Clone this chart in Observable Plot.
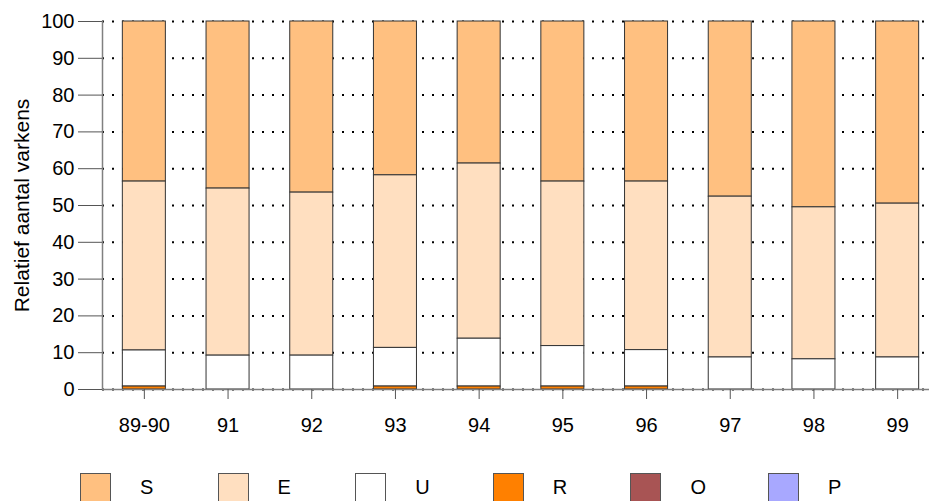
<!DOCTYPE html>
<html>
<head>
<meta charset="utf-8">
<script src="https://cdn.jsdelivr.net/npm/d3@7"></script>
<script src="https://cdn.jsdelivr.net/npm/@observablehq/plot@0.6"></script>
<style>
  html, body { margin: 0; padding: 0; background: #fff; }
  body { width: 929px; height: 501px; position: relative; overflow: hidden; font-family: "Liberation Sans", Arial, sans-serif; }
  #chart svg { display: block; }
  g[aria-label="y-axis label"] text, g[aria-label="y-axis label"] { font-size: 21px !important; }
  #legend { position: absolute; left: 0; top: 473px; width: 929px; height: 40px; }
  .item { position: absolute; top: 0; height: 40px; }
  .sw { position: absolute; left: 0; top: 0; width: 31px; height: 30px; border: 1px solid #555; box-sizing: border-box; }
  .lb { position: absolute; left: 60px; top: 2px; font-size: 20px; color: #000; line-height: 24px; }
</style>
</head>
<body>
<div id="chart"></div>
<div id="legend"></div>
<script>
const years = ["89-90", "91", "92", "93", "94", "95", "96", "97", "98", "99"];
const seriesNames = ["S", "E", "U", "R", "O", "P"];
const seriesColors = ["#FFC080", "#FFDFC0", "#FFFFFF", "#FF8000", "#A85454", "#A8A8FF"];
const stackOrder = ["P", "O", "R", "U", "E", "S"];

const S = [43.5, 45.4, 46.5, 41.8, 38.6, 43.5, 43.5, 47.6, 50.5, 49.5];
const E = [45.9, 45.4, 44.3, 46.9, 47.6, 44.7, 45.8, 43.7, 41.3, 41.8];
const U = [9.8, 9.2, 9.2, 10.5, 13.0, 11.0, 9.9, 8.7, 8.2, 8.7];
const R = [0.8, 0, 0, 0.8, 0.8, 0.8, 0.8, 0, 0, 0];
const O = [0, 0, 0, 0, 0, 0, 0, 0, 0, 0];
const P = [0, 0, 0, 0, 0, 0, 0, 0, 0, 0];
const yTicks = [0, 10, 20, 30, 40, 50, 60, 70, 80, 90, 100];
const yLabel = "Relatief aantal varkens";

const seriesValues = {S, E, U, R, O, P};
const data = [];
years.forEach((yr, i) => {
  seriesNames.forEach(s => data.push({year: yr, series: s, value: seriesValues[s][i]}));
});

const chart = Plot.plot({
  width: 929,
  height: 460,
  marginLeft: 102,
  marginRight: 0,
  marginTop: 21,
  marginBottom: 71,
  style: {fontFamily: "'Liberation Sans', Arial, sans-serif", fontSize: "20px", color: "#000", background: "#fff"},
  x: {type: "band", domain: years, range: [102, 939], paddingInner: 0.486, paddingOuter: 0.243, round: false},
  y: {domain: [0, 100]},
  color: {domain: seriesNames, range: seriesColors},
  marks: [
    Plot.gridY(yTicks, {stroke: "#000", strokeOpacity: 1, strokeWidth: 2, strokeDasharray: "2 8"}),
    Plot.barY(data, Plot.stackY({order: stackOrder}, {
      x: "year", y: "value", z: "series", fill: "series",
      stroke: "#333", strokeWidth: 1, insetLeft: 0, insetRight: 0
    })),
    Plot.ruleY([0], {stroke: "#808080", strokeWidth: 1.5}),
    Plot.frame({anchor: "left", stroke: "#808080", strokeWidth: 1.5}),
    Plot.axisY(yTicks, {tickSize: 24, tickPadding: 4, fontSize: 20, stroke: "#555",
      label: yLabel, labelAnchor: "center", labelArrow: "none", labelOffset: 88}),
    Plot.axisX({tickSize: 10, tickPadding: 18, fontSize: 20, stroke: "#555", label: null})
  ]
});
document.getElementById("chart").appendChild(chart);
chart.querySelectorAll('g[aria-label="y-axis label"] text').forEach(t => t.setAttribute("font-size", "21"));

const legend = document.getElementById("legend");
seriesNames.forEach((s, i) => {
  const item = document.createElement("div");
  item.className = "item";
  item.style.left = (80 + i * 137.6) + "px";
  const sw = document.createElement("div");
  sw.className = "sw";
  sw.style.background = seriesColors[i];
  const lb = document.createElement("div");
  lb.className = "lb";
  lb.textContent = s;
  item.appendChild(sw);
  item.appendChild(lb);
  legend.appendChild(item);
});
</script>
</body>
</html>
